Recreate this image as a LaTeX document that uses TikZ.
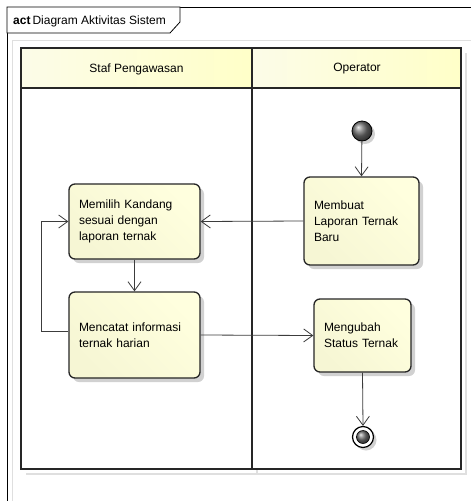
\documentclass[tikz,border=0pt]{standalone}
\usepackage{fontspec}
\setmainfont{Liberation Sans}
\usetikzlibrary{arrows.meta,shadows}
\definecolor{boxA}{RGB}{246,246,212}
\definecolor{boxB}{RGB}{255,255,222}
\definecolor{headA}{RGB}{252,252,232}
\definecolor{headB}{RGB}{255,255,200}
\definecolor{conn}{RGB}{60,60,60}
\begin{document}
\begin{tikzpicture}[x=1pt,y=-1pt,
  txt/.style={font=\fontsize{12}{16}\selectfont},
  act/.style={txt, draw=black!85, line width=1.3pt, rounded corners=6pt,
    left color=boxA, right color=boxB, shading angle=135,
    align=left, inner xsep=10pt, inner ysep=0pt,
    drop shadow={shadow xshift=4pt, shadow yshift=-4pt, fill=black!18, opacity=1}},
  lane/.style={draw=black!85, line width=1.5pt},
  conn/.style={draw=conn, line width=0.8pt, -{Straight Barb[length=9pt,width=13pt]}},
  startnode/.style={circle, minimum size=20pt, inner sep=0pt, draw=black, line width=0.8pt,
    ball color=black!55,
    drop shadow={shadow xshift=3pt, shadow yshift=-3pt, fill=black!18, opacity=1}},
]
\useasboundingbox[fill=white] (0,0) rectangle (471,501);

% outer frame
\draw[gray!25, line width=0.8pt] (12,501) -- (12,40) -- (471,40);
\draw[black, line width=0.8pt] (7,501) -- (7,7) -- (471,7);
\draw[black, line width=0.8pt, fill=white] (7,7) -- (180,7) -- (180,22) -- (170,33) -- (7,33) -- cycle;
\node[txt, anchor=west, inner sep=0pt] (title) at (13,21) {\textbf{act}\,Diagram Aktivitas Sistem};

% lane shadow
\draw[gray!25, line width=1.5pt] (26,474) -- (466,474) -- (466,53);
\draw[gray!25, line width=1.5pt] (257,469) -- (257,474);

% lanes
\shade[left color=headA, right color=headB] (21,48) rectangle (252,88);
\shade[left color=headA, right color=headB] (252,48) rectangle (461,88);
\draw[lane] (21,48) rectangle (461,469);
\draw[lane] (21,88) -- (461,88);
\draw[lane] (252,48) -- (252,469);
\node[txt] (lane1) at (136.5,69) {Staf Pengawasan};
\node[txt] (lane2) at (357,69) {Operator};

% nodes
\node[startnode] (start) at (362,131) {};
\node[act, text width=95pt, minimum height=88pt] (membuat) at (361.5,221) {Membuat\\Laporan Ternak\\Baru};
\node[act, text width=111pt, minimum height=75pt] (memilih) at (134.5,221.5) {Memilih Kandang\\sesuai dengan\\laporan ternak};
\node[act, text width=111pt, minimum height=86pt] (mencatat) at (134.5,335) {Mencatat informasi\\ternak harian};
\node[act, text width=77pt, minimum height=73pt] (mengubah) at (362.5,335.5) {Mengubah\\Status Ternak};

% end node
\node[circle, minimum size=21pt, inner sep=0pt, draw=black, line width=1.2pt, fill=white,
  drop shadow={shadow xshift=3pt, shadow yshift=-3pt, fill=black!18, opacity=1}] (end) at (363,437) {};
\node[circle, minimum size=13pt, inner sep=0pt, draw=black, line width=0.6pt, ball color=black!55] (endin) at (end.center) {};

% connectors
\draw[conn] (start) -- (membuat.north);
\draw[conn] (membuat.west) -- (memilih.east);
\draw[conn] (memilih.south) -- (mencatat.north);
\draw[conn] ([yshift=4pt]mencatat.west) -- ++(-27,0) |- (memilih.west);
\draw[conn] (mencatat.east) -- (mengubah.west);
\draw[conn] (mengubah.south) -- (end.north);
\end{tikzpicture}
\end{document}
